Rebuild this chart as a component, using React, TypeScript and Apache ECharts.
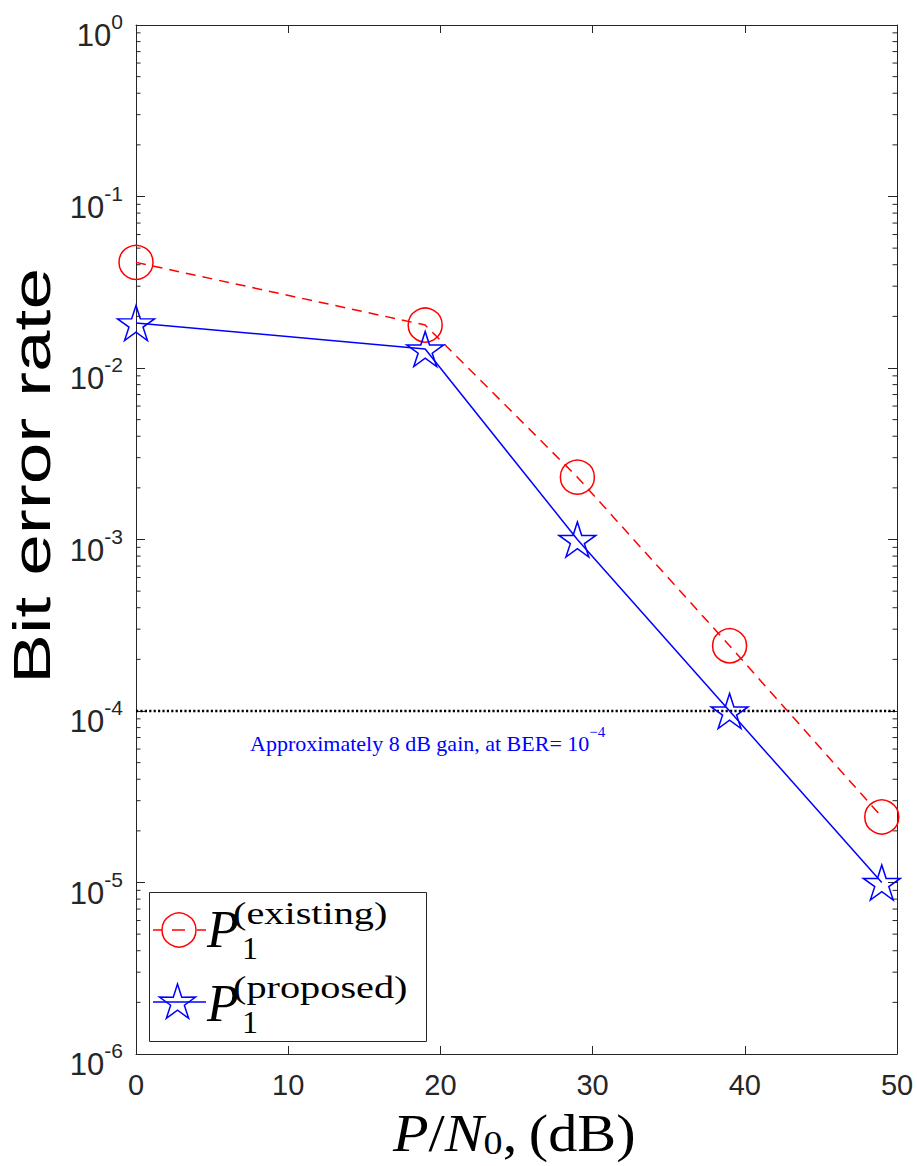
import React, { useEffect, useRef } from "react";
import * as echarts from "echarts";

// ---- data ----
const snrDb = [0, 19, 29, 39, 49];
const berExisting = [0.0413, 0.0178, 0.00231, 2.4e-4, 2.41e-5];
const berProposed = [0.0183, 0.0129, 1.0e-3, 1.0e-4, 1.0e-5];
const berTarget = 1e-4;
const xRange = [0, 50];
const yRange = [1e-6, 1];
const decadeExponents = [-6, -5, -4, -3, -2, -1];
const minorMultipliers = [2, 3, 4, 5, 6, 7, 8, 9];

const STAR_PATH =
  "path://M50 0 L61.17 34.63 L97.55 34.55 L68.07 55.87 L79.39 90.45 L50 69 L20.61 90.45 L31.93 55.87 L2.45 34.55 L38.83 34.63 Z";

const AX = "#262626";
const SANS = "Liberation Sans";
const SERIF = "Liberation Serif";

function starPoints(cx: number, cy: number, R: number, r: number) {
  const pts: number[][] = [];
  for (let i = 0; i < 10; i++) {
    const a = (-90 + i * 36) * (Math.PI / 180);
    const rad = i % 2 === 0 ? R : r;
    pts.push([cx + rad * Math.cos(a), cy + rad * Math.sin(a)]);
  }
  return pts;
}

export default function App() {
  const ref = useRef<HTMLDivElement>(null);
  useEffect(() => {
    document.body.style.margin = "0";
    const chart = echarts.init(ref.current!, null, { renderer: "svg" });

    const minorValues: number[] = [];
    decadeExponents.forEach((e) =>
      minorMultipliers.forEach((m) => minorValues.push(m * Math.pow(10, e)))
    );

    const axisLine = { show: true, onZero: false, lineStyle: { color: AX, width: 1 } };
    const yLabel = {
      show: true,
      margin: 13,
      fontSize: 31,
      fontFamily: SANS,
      color: AX,
      padding: [21, 0, 0, 0],
      formatter: (v: number) => `{b|10}{s|${Math.round(Math.log10(v))}}`,
      rich: {
        b: { fontSize: 31, fontFamily: SANS, color: AX },
        s: { fontSize: 21, fontFamily: SANS, color: AX, padding: [0, 0, 28, 0] },
      },
    };

    const option: any = {
      animation: false,
      backgroundColor: "#ffffff",
      grid: { left: 136, top: 25, width: 761, height: 1029, containLabel: false },
      xAxis: [
        {
          type: "value",
          min: xRange[0],
          max: xRange[1],
          interval: 10,
          position: "bottom",
          axisLine,
          axisTick: { show: true, inside: true, length: 8, lineStyle: { color: AX } },
          axisLabel: { fontFamily: SANS, fontSize: 29, color: AX, margin: 16 },
          splitLine: { show: false },
        },
        {
          type: "value",
          min: xRange[0],
          max: xRange[1],
          interval: 10,
          position: "top",
          axisLine,
          axisTick: { show: true, inside: true, length: 8, lineStyle: { color: AX } },
          axisLabel: { show: false },
          splitLine: { show: false },
        },
      ],
      yAxis: [
        {
          type: "log",
          logBase: 10,
          min: yRange[0],
          max: yRange[1],
          splitNumber: 6,
          position: "left",
          axisLine,
          axisTick: { show: true, inside: true, length: 9, lineStyle: { color: AX } },
          axisLabel: yLabel,
          splitLine: { show: false },
        },
        {
          type: "log",
          logBase: 10,
          min: yRange[0],
          max: yRange[1],
          splitNumber: 6,
          position: "right",
          axisLine,
          axisTick: { show: true, inside: true, length: 9, lineStyle: { color: AX } },
          axisLabel: { show: false },
          splitLine: { show: false },
        },
      ],
      series: [
        {
          type: "custom",
          xAxisIndex: 0,
          yAxisIndex: 0,
          clip: false,
          silent: true,
          data: minorValues.map((v) => [xRange[0], v]),
          renderItem: (params: any, api: any) => {
            const v = api.value(1);
            const pL = api.coord([xRange[0], v]);
            const pR = api.coord([xRange[1], v]);
            return {
              type: "group",
              children: [
                { type: "line", shape: { x1: pL[0], y1: pL[1], x2: pL[0] + 4.5, y2: pL[1] }, style: { stroke: AX, lineWidth: 1 } },
                { type: "line", shape: { x1: pR[0] - 4.5, y1: pR[1], x2: pR[0], y2: pR[1] }, style: { stroke: AX, lineWidth: 1 } },
              ],
            };
          },
        },
        {
          type: "line",
          data: xRange.map((x) => [x, berTarget]),
          symbol: "none",
          lineStyle: { color: "#000", width: 2.5, type: [2.2, 2.2] },
          silent: true,
          z: 3,
        },
        {
          name: "existing",
          type: "line",
          data: snrDb.map((x, i) => [x, berExisting[i]]),
          symbol: "circle",
          symbolSize: 34,
          lineStyle: { color: "#ff0000", width: 1.5, type: [10, 7] },
          itemStyle: { color: "rgba(0,0,0,0)", borderColor: "#ff0000", borderWidth: 1.5 },
          clip: false,
          z: 4,
        },
        {
          name: "proposed",
          type: "line",
          data: snrDb.map((x, i) => [x, berProposed[i]]),
          symbol: STAR_PATH,
          symbolSize: [37, 35],
          lineStyle: { color: "#0000ff", width: 1.5 },
          itemStyle: { color: "rgba(0,0,0,0)", borderColor: "#0000ff", borderWidth: 1.5 },
          clip: false,
          z: 5,
        },
      ],
      graphic: [
        // y-axis title
        {
          type: "text",
          x: 32,
          y: 476,
          rotation: Math.PI / 2,
          scaleX: 1.44,
          style: {
            text: "Bit error rate",
            fontFamily: SANS,
            fontSize: 52,
            fill: "#000",
            align: "center",
            verticalAlign: "middle",
          },
        },
        // x-axis title
        {
          type: "text",
          x: 393,
          y: 1134,
          scaleX: 1.12,
          style: {
            text: "{i|P}{r|/}{i|N}{sub|0}{r|,\u2009(dB)}",
            align: "left",
            verticalAlign: "middle",
            rich: {
              i: { fontFamily: SERIF, fontStyle: "italic", fontSize: 52, fill: "#000", lineHeight: 52, verticalAlign: "top" },
              r: { fontFamily: SERIF, fontSize: 52, fill: "#000", lineHeight: 52, verticalAlign: "top" },
              sub: { fontFamily: SERIF, fontSize: 34, fill: "#000", lineHeight: 30, verticalAlign: "bottom" },
            },
          },
        },
        // annotation
        {
          type: "text",
          x: 250,
          y: 739,
          style: {
            text: "{a|Approximately 8 dB gain, at BER= 10}{s|\u22124}",
            align: "left",
            verticalAlign: "middle",
            rich: {
              a: { fontFamily: SERIF, fontSize: 22, fill: "#0000ff", lineHeight: 30, verticalAlign: "bottom" },
              s: { fontFamily: SERIF, fontSize: 15, fill: "#0000ff", lineHeight: 16, verticalAlign: "top" },
            },
          },
        },
        // legend
        {
          type: "rect",
          shape: { x: 149.5, y: 892.5, width: 277, height: 149 },
          style: { fill: "#fff", stroke: AX, lineWidth: 1 },
          z: 100,
        },
        { type: "line", shape: { x1: 153, y1: 930, x2: 162, y2: 930 }, style: { stroke: "#ff0000", lineWidth: 1.5 }, z: 101 },
        { type: "line", shape: { x1: 172, y1: 930, x2: 185, y2: 930 }, style: { stroke: "#ff0000", lineWidth: 1.5 }, z: 101 },
        { type: "line", shape: { x1: 197, y1: 930, x2: 206, y2: 930 }, style: { stroke: "#ff0000", lineWidth: 1.5 }, z: 101 },
        { type: "circle", shape: { cx: 179, cy: 930, r: 17 }, style: { fill: "none", stroke: "#ff0000", lineWidth: 1.5 }, z: 101 },
        { type: "line", shape: { x1: 153, y1: 1002, x2: 206, y2: 1002 }, style: { stroke: "#0000ff", lineWidth: 1.5 }, z: 101 },
        {
          type: "polygon",
          shape: { points: starPoints(177.5, 1003, 19, 7.2) },
          style: { fill: "none", stroke: "#0000ff", lineWidth: 1.5 },
          z: 101,
        },
        { type: "text", x: 207, y: 929, style: { text: "P", fontFamily: SERIF, fontStyle: "italic", fontSize: 52, fill: "#000", verticalAlign: "middle" }, z: 101 },
        { type: "text", x: 242, y: 948, style: { text: "1", fontFamily: SERIF, fontSize: 32, fill: "#000", verticalAlign: "middle" }, z: 101 },
        { type: "text", x: 233, y: 914, scaleX: 1.3, style: { text: "(existing)", fontFamily: SERIF, fontSize: 31, fill: "#000", verticalAlign: "middle" }, z: 101 },
        { type: "text", x: 207, y: 1003, style: { text: "P", fontFamily: SERIF, fontStyle: "italic", fontSize: 52, fill: "#000", verticalAlign: "middle" }, z: 101 },
        { type: "text", x: 242, y: 1022, style: { text: "1", fontFamily: SERIF, fontSize: 32, fill: "#000", verticalAlign: "middle" }, z: 101 },
        { type: "text", x: 233, y: 988, scaleX: 1.3, style: { text: "(proposed)", fontFamily: SERIF, fontSize: 31, fill: "#000", verticalAlign: "middle" }, z: 101 },
      ],
    };
    chart.setOption(option);
    return () => chart.dispose();
  }, []);
  return <div ref={ref} style={{ width: 917, height: 1166 }} />;
}
